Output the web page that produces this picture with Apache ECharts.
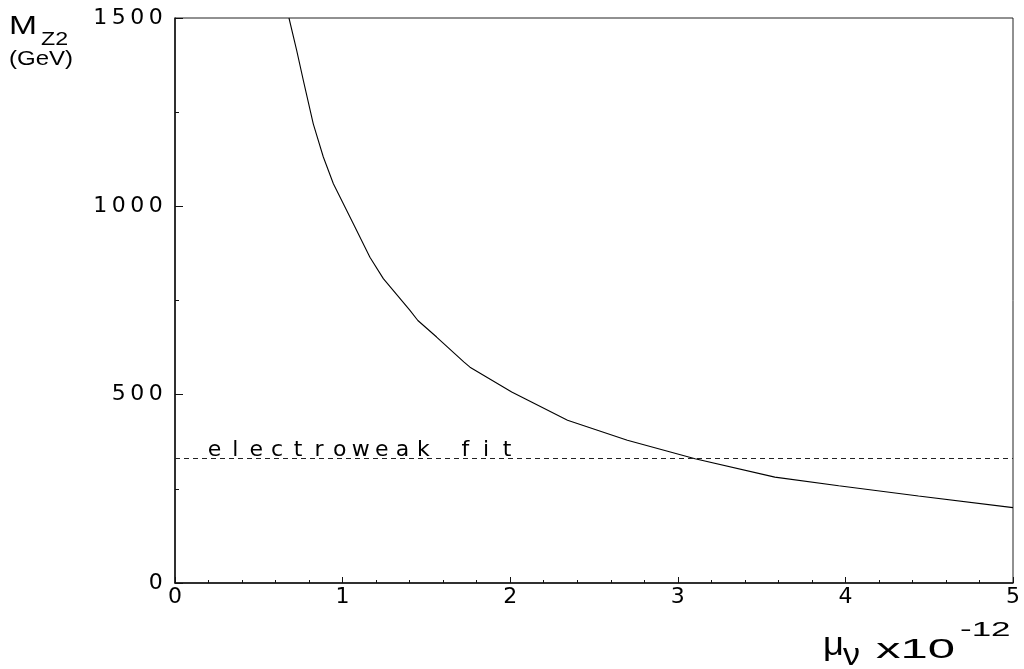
<!DOCTYPE html>
<html>
<head>
<meta charset="utf-8">
<script src="https://cdn.jsdelivr.net/npm/echarts@6/dist/echarts.min.js"></script>
<style>
html,body{margin:0;padding:0;background:#fff;}
#chart{width:1024px;height:669px;}
</style>
</head>
<body>
<div id="chart"></div>
<script>
// Curve: M_Z2 (GeV) versus mu_nu (x10^-12)
const muValues = [0.68, 0.726, 0.766, 0.825, 0.885, 0.945, 1.064, 1.163, 1.243, 1.402, 1.449, 1.561, 1.723, 1.76, 2.009, 2.342, 2.699, 3.103, 3.579, 3.96, 4.436, 5.0];
const massValues = [1500, 1414, 1334, 1219, 1131, 1060, 954, 865, 808, 724, 697, 653, 587, 573, 507, 432, 379, 330, 281, 258, 231, 200];
// Electroweak fit bound
const fitValue = 332;
const fitLabel = 'electroweak fit';
// Axes
const xTickLabels = ['0', '1', '2', '3', '4', '5'];
const yTickLabels = ['0', '500', '1000', '1500'];

const FONT = 'Liberation Sans, Arial, sans-serif';
const WIDE = 'DejaVu Sans, sans-serif';

function spaced(str, key) {
  return str.split('').map(c => '{' + key + '|' + c + '}').join('');
}
function title(text, x, y, size, sx) {
  return {
    type: 'text', x: x, y: y, scaleX: sx, silent: true,
    style: {text: text, fill: '#000', font: size + 'px ' + FONT, align: 'left', verticalAlign: 'top'}
  };
}

const chart = echarts.init(document.getElementById('chart'));
chart.setOption({
  backgroundColor: '#fff',
  animation: false,
  grid: {left: 175, right: 11, top: 18, bottom: 86, show: true, borderColor: '#222', borderWidth: 1},
  xAxis: {
    type: 'value', min: 0, max: 5, interval: 1,
    axisLine: {lineStyle: {color: '#111', width: 1.5}},
    axisTick: {inside: true, length: 6, lineStyle: {color: '#111'}},
    minorTick: {show: true, splitNumber: 5, length: 3, lineStyle: {color: '#111'}},
    splitLine: {show: false},
    axisLabel: {
      margin: 3,
      formatter: v => spaced(xTickLabels[Math.round(v)], 'd'),
      rich: {d: {fontFamily: WIDE, fontSize: 22, color: '#000', width: 18, align: 'center'}}
    }
  },
  yAxis: {
    type: 'value', min: 0, max: 1500, interval: 500,
    axisLine: {lineStyle: {color: '#111', width: 1.5}},
    axisTick: {inside: true, length: 8, lineStyle: {color: '#111'}},
    minorTick: {show: true, splitNumber: 2, length: 4, lineStyle: {color: '#111'}},
    splitLine: {show: false},
    axisLabel: {
      margin: 10,
      formatter: v => spaced(yTickLabels[Math.round(v / 500)], 'd'),
      rich: {d: {fontFamily: WIDE, fontSize: 22, color: '#000', width: 18.5, align: 'center'}}
    }
  },
  series: [
    {
      type: 'line',
      data: muValues.map((x, i) => [x, massValues[i]]),
      showSymbol: false,
      symbol: 'none',
      lineStyle: {color: '#000', width: 1.1},
      clip: true
    },
    {
      type: 'line',
      data: [],
      markLine: {
        silent: true,
        symbol: 'none',
        data: [{yAxis: fitValue}],
        lineStyle: {type: [5, 4], color: '#222', width: 1},
        label: {
          show: true,
          position: 'insideStartTop',
          distance: -3,
          padding: [0, 0, 0, 32],
          formatter: () => spaced(fitLabel, 'c'),
          rich: {c: {fontFamily: WIDE, fontSize: 22, color: '#000', width: 20.9, align: 'center'}}
        }
      }
    }
  ],
  graphic: [
    title('M', 9, 13, 26.5, 1.27),
    title('Z2', 41, 31, 18, 1.29),
    title('(GeV)', 9, 50, 19.5, 1.23),
    title('μ', 823, 629, 33, 1.1),
    title('ν', 843, 641, 31, 1.1),
    title('x10', 876, 636, 28, 1.75),
    title('-12', 960, 620.5, 20, 1.75)
  ]
});
</script>
</body>
</html>
